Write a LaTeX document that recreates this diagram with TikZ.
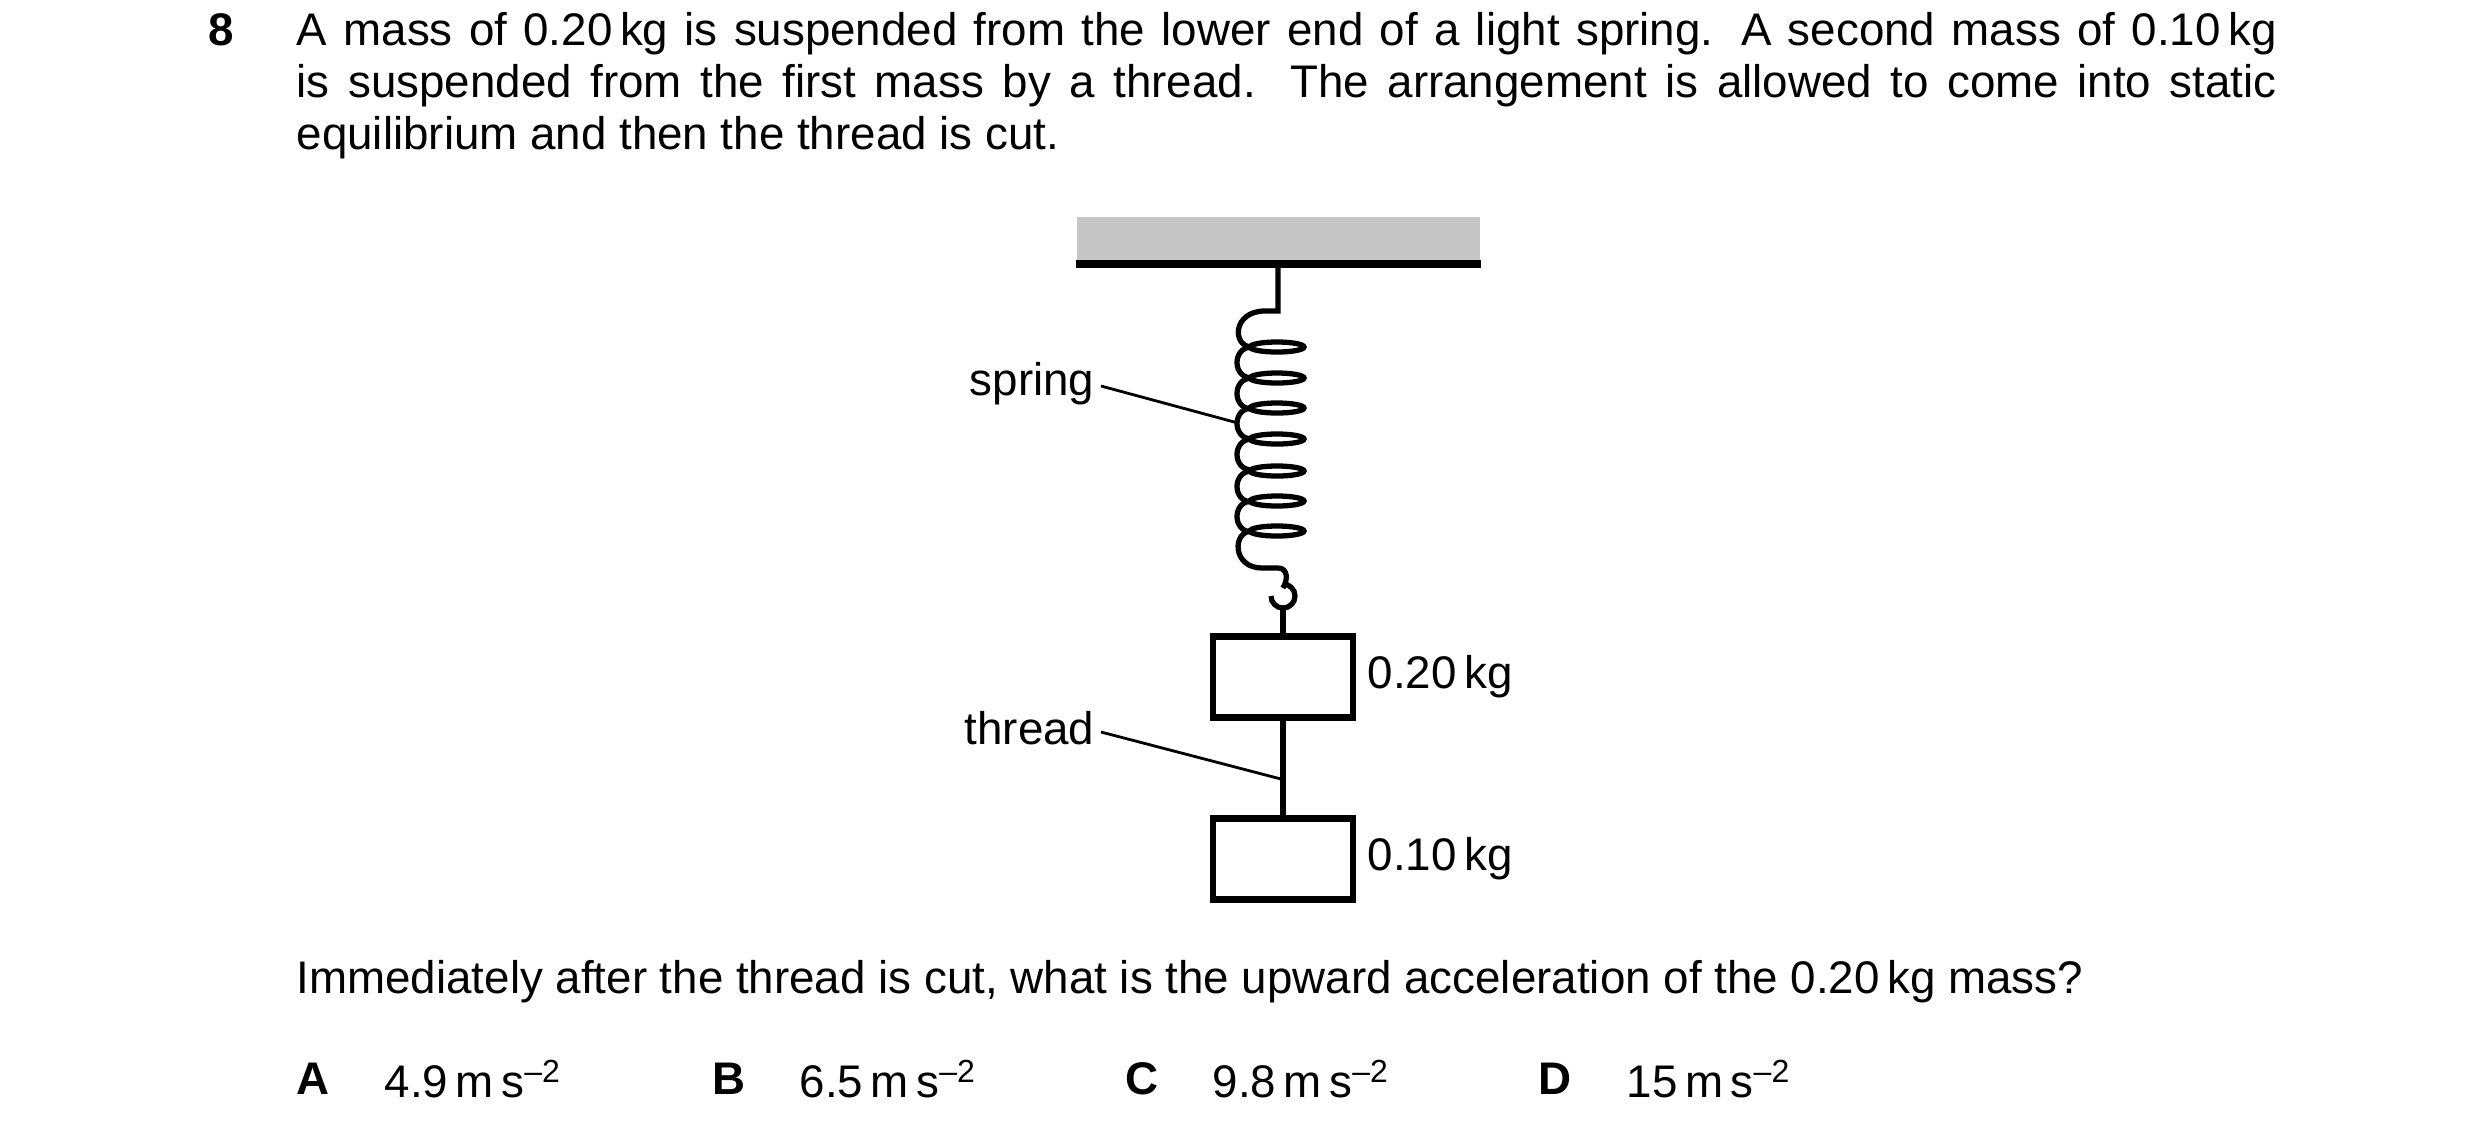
\documentclass[tikz,border=0pt]{standalone}
\usepackage{fontspec}
\setmainfont{Liberation Sans}
\newcommand{\msq}{\,m\,s\textsuperscript{–2}}
\begin{document}
\begin{tikzpicture}[x=0.01cm,y=-0.01cm,
  txt/.style={inner sep=0pt,font=\fontsize{13pt}{14.8pt}\selectfont},
  bf/.style={inner sep=0pt,font=\fontsize{13pt}{14.8pt}\selectfont\bfseries},
  wire/.style={line width=1.5pt},
  leader/.style={line width=0.8pt},
  box/.style={draw,line width=1.8pt,minimum width=1.40cm,minimum height=0.81cm,inner sep=0pt}]
\useasboundingbox (0,0) rectangle (2480,1135);
\node[bf,anchor=west] (num) at (208,30) {8};
\node[txt,anchor=north west,text width=19.79cm,align=justify] (para) at (296,12)
 {A mass of 0.20\,kg is suspended from the lower end of a light spring. A second mass of 0.10\,kg is suspended from the first mass by a thread. The arrangement is allowed to come into static equilibrium and then the thread is cut.};
% ceiling
\fill[gray!45] (1077,217) rectangle (1480,264);
\coordinate (c1) at (1076,264); \coordinate (c2) at (1481,264);
\draw[line width=2pt] (c1) -- (c2);
\coordinate (top) at (1278,264);
% spring
\draw[wire] (top) -- (1278,311) -- (1265,311)
  .. controls (1232,311) and (1232,347) .. (1252,347);
\foreach \y in {347,378,408,439,471,501}{
  \draw[wire] (1277,\y) ellipse (27 and 5);
  \draw[wire] (1252,\y) .. controls (1232,\y) and (1232,\y+31) .. (1252,\y+31);
}
\draw[wire] (1277,531) ellipse (27 and 5);
\draw[wire] (1252,531) .. controls (1232,531) and (1232,568) .. (1262,568)
  -- (1278,568) .. controls (1288,568) and (1288,580) .. (1283,588);
\draw[wire] (1271,596) arc (180:-90:12);
\coordinate (hookb) at (1283,608);
% masses
\node[box] (m1) at (1283,677) {};
\node[box] (m2) at (1283,859) {};
\draw[wire] (hookb) -- (m1.north);
\draw[wire] (m1.south) -- (m2.north);
\node[txt,anchor=west] (l1) at (1367,677) {0.20\,kg};
\node[txt,anchor=west] (l2) at (1367,859) {0.10\,kg};
% labels
\node[txt,anchor=east] (sp) at (1095,384) {spring};
\coordinate (spe) at (1238,423);
\draw[leader] (sp.east) ++(6,2) -- (spe);
\node[txt,anchor=east] (th) at (1095,728) {thread};
\coordinate (the) at (1281,779);
\draw[leader] (th.east) ++(6,4) -- (the);
% question
\node[txt,anchor=west] (q) at (296,982) {Immediately after the thread is cut, what is the upward acceleration of the 0.20\,kg mass?};
\node[bf,anchor=west] (A) at (296,1079) {A};
\node[txt,anchor=west] (a) at (384,1079) {4.9\msq};
\node[bf,anchor=west] (B) at (712,1079) {B};
\node[txt,anchor=west] (b) at (799,1079) {6.5\msq};
\node[bf,anchor=west] (C) at (1125,1079) {C};
\node[txt,anchor=west] (c) at (1212,1079) {9.8\msq};
\node[bf,anchor=west] (D) at (1538,1079) {D};
\node[txt,anchor=west] (d) at (1626,1079) {15\msq};
\end{tikzpicture}
\end{document}
